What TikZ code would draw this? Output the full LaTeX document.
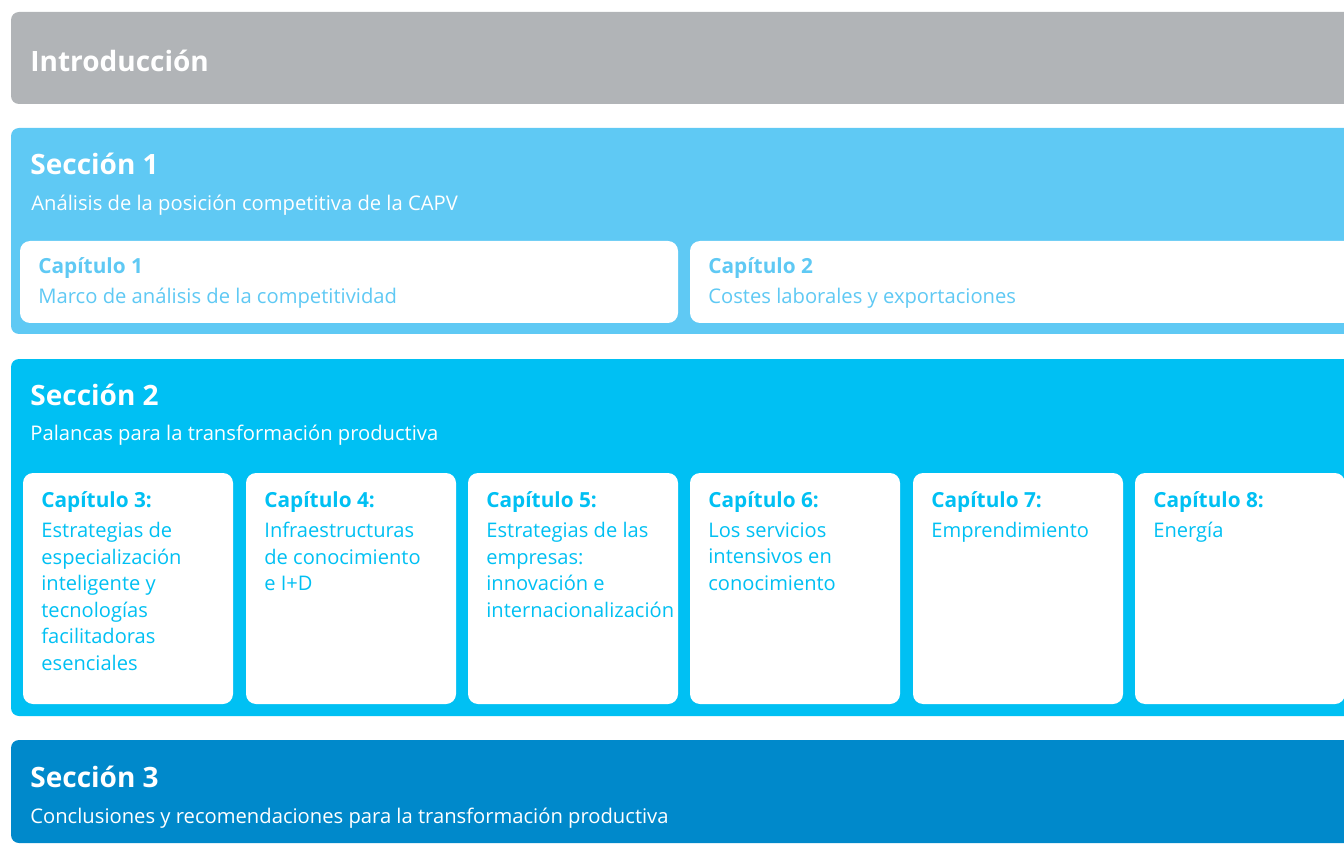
\documentclass[tikz,border=0pt]{standalone}
\usepackage{fontspec}
\setmainfont{Open Sans}
\definecolor{introgray}{HTML}{B1B4B7}
\definecolor{seconeblue}{HTML}{5FC9F4}
\definecolor{sectwoblue}{HTML}{00C0F3}
\definecolor{secthreeblue}{HTML}{0089CB}
\tikzset{
  band/.style={fill=#1, rounded corners=4pt},
  capbox/.style={fill=white, rounded corners=5pt},
  bandtitle/.style={anchor=base west, inner sep=0pt, text=white,
    font=\bfseries\fontsize{14}{16}\selectfont},
  bandsub/.style={anchor=base west, inner sep=0pt, text=white,
    font=\fontsize{10.1}{12}\selectfont},
  captitle/.style={anchor=base west, inner sep=0pt, text=#1,
    font=\bfseries\fontsize{10.4}{12}\selectfont},
  captext/.style={anchor=north west, inner sep=0pt, text=#1, align=left,
    font=\fontsize{10.05}{13.25}\selectfont},
}
\begin{document}
\begin{tikzpicture}[x=0.5pt, y=-0.5pt]
  \useasboundingbox (0,0) rectangle (1344,861);
  \clip (0,0) rectangle (1344,861);
  % bands
  \fill[band=introgray] (11,12) rectangle (1370,104);
  \fill[band=seconeblue] (11,128) rectangle (1370,334);
  \fill[band=sectwoblue] (11,359) rectangle (1370,716);
  \fill[band=secthreeblue] (11,740) rectangle (1370,843);
  % chapter boxes
  \fill[capbox] (20,241) rectangle (678,323);
  \fill[capbox] (690,241) rectangle (1370,323);
  \foreach \x in {23,246,468,690,913,1135}
    \fill[capbox] (\x,473) rectangle ++(210,231);

  \node[bandtitle] (intro) at (30,72) {Introducción};

  \node[bandtitle] (secone) at (30,175) {Sección 1};
  \node[bandsub] (seconesub) at (31,211) {Análisis de la posición competitiva de la CAPV};
  \node[captitle=seconeblue] (capone) at (38,274) {Capítulo 1};
  \node[bandsub, text=seconeblue] (caponetext) at (38,304) {Marco de análisis de la competitividad};
  \node[captitle=seconeblue] (captwo) at (708,274) {Capítulo 2};
  \node[bandsub, text=seconeblue] (captwotext) at (708,304) {Costes laborales y exportaciones};

  \node[bandtitle] (sectwo) at (30,405) {Sección 2};
  \node[bandsub] (sectwosub) at (30,440) {Palancas para la transformación productiva};
  \node[captitle=sectwoblue] (capthree) at (41,507) {Capítulo 3:};
  \node[captext=sectwoblue] (capthreetext) at (41,522) {Estrategias de\\especialización\\inteligente y\\tecnologías\\facilitadoras\\esenciales};
  \node[captitle=sectwoblue] (capfour) at (264,507) {Capítulo 4:};
  \node[captext=sectwoblue] (capfourtext) at (264,522) {Infraestructuras\\de conocimiento\\e I+D};
  \node[captitle=sectwoblue] (capfive) at (486,507) {Capítulo 5:};
  \node[captext=sectwoblue] (capfivetext) at (486,522) {Estrategias de las\\empresas:\\innovación e\\internacionalización};
  \node[captitle=sectwoblue] (capsix) at (708,507) {Capítulo 6:};
  \node[captext=sectwoblue] (capsixtext) at (708,522) {Los servicios\\intensivos en\\conocimiento};
  \node[captitle=sectwoblue] (capseven) at (931,507) {Capítulo 7:};
  \node[captext=sectwoblue] (capseventext) at (931,522) {Emprendimiento};
  \node[captitle=sectwoblue] (capeight) at (1153,507) {Capítulo 8:};
  \node[captext=sectwoblue] (capeighttext) at (1153,522) {Energía};

  \node[bandtitle] (secthree) at (30,787) {Sección 3};
  \node[bandsub] (secthreesub) at (30,823) {Conclusiones y recomendaciones para la transformación productiva};
\end{tikzpicture}
\end{document}
